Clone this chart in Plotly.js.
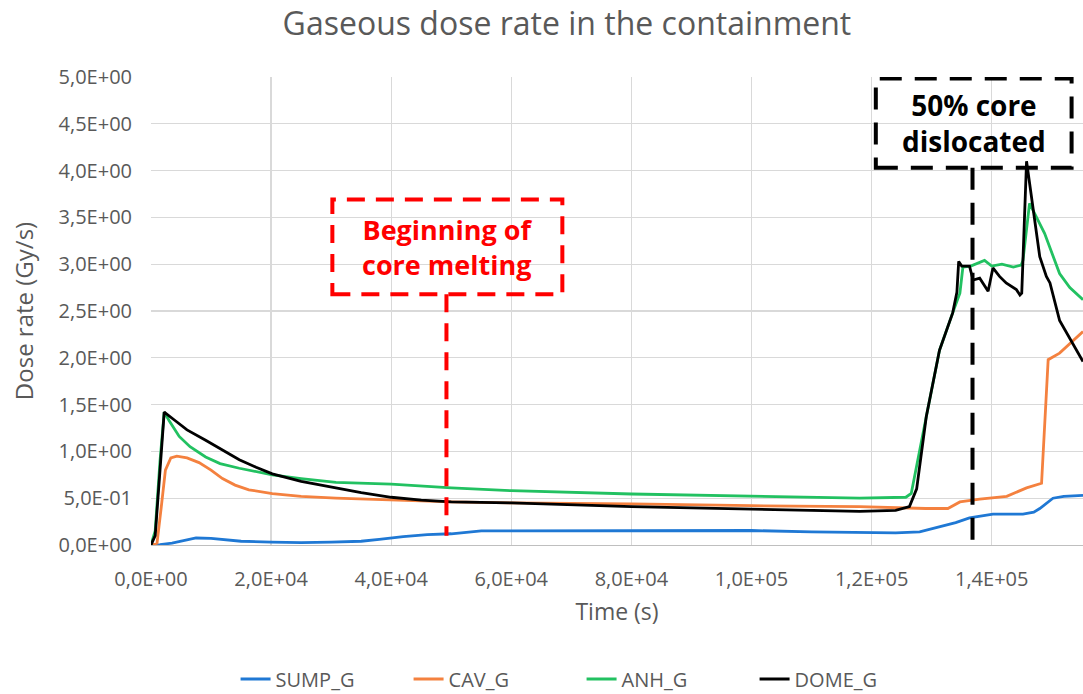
<!DOCTYPE html>
<html>
<head>
<meta charset="utf-8">
<script src="https://cdn.plot.ly/plotly-3.0.1.min.js"></script>
<style>html,body{margin:0;padding:0;background:#fff;}#chart{width:1083px;height:694px;}</style>
</head>
<body>
<div id="chart"></div>
<script>
// ---- Data (time in s, dose rate in Gy/s) ----
const sumpX = [0, 1500, 3500, 5500, 7500, 10000, 12000, 15000, 20000, 25000, 30000, 35000, 38000, 42000, 46000, 50000, 55000, 60000, 80000, 100000, 110000, 118000, 124000, 128000, 131800, 134000, 136300, 138000, 140200, 145200, 147000, 148000, 150200, 152000, 155200];
const sumpY = [0, 0.005, 0.02, 0.05, 0.075, 0.07, 0.055, 0.04, 0.03, 0.025, 0.03, 0.04, 0.06, 0.09, 0.11, 0.12, 0.15, 0.15, 0.15, 0.155, 0.14, 0.13, 0.13, 0.14, 0.2, 0.24, 0.29, 0.31, 0.33, 0.33, 0.35, 0.39, 0.5, 0.52, 0.53];

const cavX = [0, 1000, 1700, 2400, 3300, 4300, 6000, 8000, 10000, 11900, 14000, 16300, 20200, 25000, 30800, 40000, 50000, 60000, 80000, 100000, 118000, 129000, 132700, 134700, 138000, 142500, 145800, 148300, 149000, 149400, 151300, 153000, 155200];
const cavY = [0, 0.02, 0.4, 0.8, 0.93, 0.95, 0.93, 0.88, 0.80, 0.71, 0.64, 0.59, 0.55, 0.52, 0.50, 0.48, 0.46, 0.45, 0.44, 0.42, 0.41, 0.39, 0.39, 0.46, 0.49, 0.52, 0.61, 0.66, 1.5, 1.98, 2.05, 2.15, 2.28];

const anhX = [0, 700, 1500, 2200, 3000, 4700, 6500, 9100, 11500, 14700, 20200, 25000, 30800, 40000, 50000, 60000, 80000, 100000, 118000, 125700, 126600, 129100, 131300, 133500, 134700, 135200, 136500, 138800, 140000, 141700, 143600, 144900, 145200, 146300, 148000, 148800, 151300, 153000, 155200];
const anhY = [0, 0.15, 0.9, 1.42, 1.33, 1.16, 1.05, 0.94, 0.87, 0.82, 0.75, 0.71, 0.67, 0.65, 0.61, 0.58, 0.545, 0.52, 0.50, 0.51, 0.55, 1.37, 2.08, 2.48, 2.69, 2.97, 2.98, 3.04, 2.98, 3.00, 2.97, 2.99, 3.04, 3.65, 3.44, 3.33, 2.90, 2.75, 2.62];

const domeX = [0, 700, 1500, 2200, 4000, 6000, 9100, 12000, 14700, 17500, 20200, 25000, 30800, 35000, 40000, 45000, 50000, 60000, 80000, 100000, 118000, 124000, 126300, 127500, 129100, 131300, 133500, 134200, 134500, 135000, 136300, 136900, 138000, 139400, 140200, 141300, 142400, 144100, 144700, 145000, 145800, 148000, 149100, 149700, 150800, 151300, 155200];
const domeY = [0, 0.1, 0.8, 1.42, 1.33, 1.23, 1.12, 1.01, 0.91, 0.83, 0.76, 0.68, 0.61, 0.56, 0.51, 0.48, 0.46, 0.45, 0.41, 0.38, 0.36, 0.37, 0.41, 0.6, 1.37, 2.08, 2.48, 2.7, 3.03, 2.98, 2.98, 2.83, 2.85, 2.71, 2.96, 2.87, 2.80, 2.73, 2.67, 2.69, 4.10, 3.08, 2.87, 2.80, 2.51, 2.40, 1.96];

const seriesNames = ["SUMP_G", "CAV_G", "ANH_G", "DOME_G"];
const seriesColors = ["#1f78d4", "#f4813f", "#22c161", "#000000"];

const xTickVals = [0, 20000, 40000, 60000, 80000, 100000, 120000, 140000];
const xTickText = ["0,0E+00", "2,0E+04", "4,0E+04", "6,0E+04", "8,0E+04", "1,0E+05", "1,2E+05", "1,4E+05"];
const yTickVals = [0, 0.5, 1, 1.5, 2, 2.5, 3, 3.5, 4, 4.5, 5];
const yTickText = ["0,0E+00", "5,0E-01", "1,0E+00", "1,5E+00", "2,0E+00", "2,5E+00", "3,0E+00", "3,5E+00", "4,0E+00", "4,5E+00", "5,0E+00"];

// Annotation geometry (data coordinates)
const meltBox = {x0: 30200, x1: 68500, y0: 2.68, y1: 3.69, lineX: 49200, lineBottom: 0.1, textY: 3.18, text: "Beginning of<br>core melting"};
const dislBox = {x0: 120700, x1: 153300, y0: 4.03, y1: 4.985, lineX: 136800, lineBottom: 0, textY: 4.51, text: "50% core<br>dislocated"};

const xs = [sumpX, cavX, anhX, domeX];
const ys = [sumpY, cavY, anhY, domeY];
const traces = seriesNames.map((n, i) => ({
  type: "scatter", mode: "lines", name: n,
  x: xs[i], y: ys[i],
  line: {color: seriesColors[i], width: 2.8}
}));

const FONT = "Open Sans, Liberation Sans, sans-serif";
const grey = "#595959";

function boxShapes(b, color, dash) {
  const ln = {color: color, width: 4, dash: dash};
  return [
    {type: "rect", xref: "x", yref: "y", x0: b.x0, x1: b.x1, y0: b.y0, y1: b.y1, line: ln, fillcolor: "rgba(0,0,0,0)", layer: "above"},
    {type: "line", xref: "x", yref: "y", x0: b.lineX, x1: b.lineX, y0: b.y0, y1: b.lineBottom, line: ln, layer: "above"}
  ];
}

const layout = {
  width: 1083, height: 694,
  margin: {l: 151, r: 0, t: 77, b: 149, autoexpand: false},
  paper_bgcolor: "#fff", plot_bgcolor: "#fff",
  font: {family: FONT, color: grey, size: 16},
  title: {text: "Gaseous dose rate in the containment", font: {family: FONT, size: 32, color: grey}, xref: "container", x: 0.5235, xanchor: "center", yref: "container", y: 1 - 24 / 694, yanchor: "middle"},
  xaxis: {
    range: [0, 155200], tickvals: xTickVals, ticktext: xTickText,
    showgrid: true, gridcolor: "#d9d9d9", gridwidth: 1.3,
    zeroline: false, showline: true, linecolor: "#bfbfbf", linewidth: 1.3,
    ticks: "", ticklabelstandoff: 16,
    tickfont: {size: 20, color: grey},
    title: {text: "Time (s)", font: {size: 23, color: grey}, standoff: 12}
  },
  yaxis: {
    range: [0, 5], tickvals: yTickVals, ticktext: yTickText,
    showgrid: true, gridcolor: "#d9d9d9", gridwidth: 1.3,
    zeroline: false, showline: false,
    ticks: "", ticklabelstandoff: 18,
    tickfont: {size: 20, color: grey},
    title: {text: "Dose rate (Gy/s)", font: {size: 24, color: grey}, standoff: 18}
  },
  showlegend: true,
  legend: {orientation: "h", xref: "container", x: 0.537, xanchor: "center", yref: "container", y: 1 - 679 / 694, yanchor: "middle", font: {size: 20, color: grey}, entrywidth: 128, entrywidthmode: "pixels", tracegroupgap: 0},
  shapes: [].concat(boxShapes(meltBox, "#ff0000", "18px,11px"), boxShapes(dislBox, "#000000", "22px,13px")),
  annotations: [
    {xref: "x", yref: "y", x: (meltBox.x0 + meltBox.x1) / 2, y: meltBox.textY, text: "<b>" + meltBox.text + "</b>", showarrow: false, font: {family: FONT, size: 27, color: "#ff0000"}, align: "center"},
    {xref: "x", yref: "y", x: (dislBox.x0 + dislBox.x1) / 2, y: dislBox.textY, text: "<b>" + dislBox.text + "</b>", showarrow: false, font: {family: FONT, size: 28, color: "#000000"}, align: "center"}
  ]
};

Plotly.newPlot("chart", traces, layout, {displayModeBar: false, staticPlot: true});
</script>
</body>
</html>
